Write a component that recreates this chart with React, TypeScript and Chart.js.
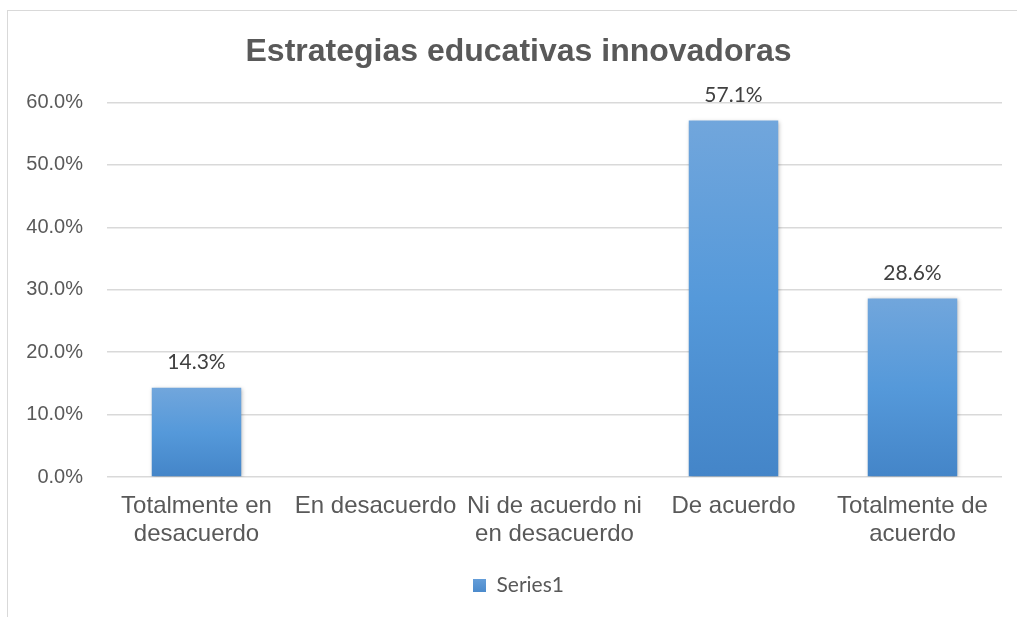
import React, { useEffect, useRef } from "react";
import { Chart, registerables } from "chart.js";

Chart.register(...registerables);

const titleText = "Estrategias educativas innovadoras";
const categories: (string | string[])[] = [
  ["Totalmente en", "desacuerdo"],
  "En desacuerdo",
  ["Ni de acuerdo ni", "en desacuerdo"],
  "De acuerdo",
  ["Totalmente de", "acuerdo"],
];
const seriesName = "Series1";
const values = [0.143, 0, 0, 0.571, 0.286];
const yMin = 0;
const yMax = 0.6;
const yStep = 0.1;

const TEXT = "#595959";
const GRID = "#d9d9d9";

const fmtPct = (v: number) => (v * 100).toFixed(1) + "%";

const barDecor = {
  id: "barDecor",
  beforeDatasetsDraw(chart: any) {
    const ctx = chart.ctx;
    ctx.save();
    ctx.shadowColor = "rgba(0,0,0,0.28)";
    ctx.shadowBlur = 4;
    ctx.shadowOffsetX = 1;
    ctx.shadowOffsetY = 1;
  },
  afterDatasetsDraw(chart: any) {
    const ctx = chart.ctx;
    ctx.restore();
    const meta = chart.getDatasetMeta(0);
    ctx.save();
    ctx.font = "21px Lato";
    ctx.fillStyle = "#404040";
    ctx.textAlign = "center";
    ctx.textBaseline = "middle";
    meta.data.forEach((el: any, i: number) => {
      const v = values[i];
      if (!v) return;
      ctx.fillText(fmtPct(v), el.x, el.y - 25);
    });
    ctx.restore();
  },
};

export default function App() {
  const ref = useRef<HTMLCanvasElement | null>(null);

  useEffect(() => {
    if (!ref.current) return;
    const chart = new Chart(ref.current, {
      type: "bar",
      data: {
        labels: categories,
        datasets: [
          {
            label: seriesName,
            data: values,
            backgroundColor: (c: any) => {
              const ys = c.chart.scales?.y;
              if (!ys || c.type !== "data" || !isFinite(ys.top)) return "#5B9BD5";
              const top = ys.getPixelForValue(c.raw);
              const base = ys.getPixelForValue(0);
              if (!isFinite(top) || !isFinite(base) || top === base) return "#5B9BD5";
              const g = c.chart.ctx.createLinearGradient(0, top, 0, base);
              g.addColorStop(0, "#71A6DC");
              g.addColorStop(0.5, "#5599DA");
              g.addColorStop(1, "#4485C8");
              return g;
            },
            borderWidth: 0,
            categoryPercentage: 1,
            barPercentage: 0.5,
          },
        ],
      },
      options: {
        responsive: false,
        animation: false,
        devicePixelRatio: 1,
        layout: { padding: { left: 20, right: 0, top: 0, bottom: 11 } },
        plugins: {
          title: {
            display: true,
            text: titleText,
            color: TEXT,
            font: { family: "'Liberation Sans', Arial, sans-serif", size: 32, weight: "bold", lineHeight: 1.2 },
            padding: { top: 33, bottom: 31 },
          },
          legend: {
            display: true,
            position: "bottom",
            labels: {
              color: TEXT,
              font: { family: "Lato", size: 21 },
              boxWidth: 13,
              boxHeight: 13,
              padding: 10,
              generateLabels: (ch: any) => [
                {
                  text: seriesName,
                  fillStyle: (() => {
                    const g = ch.ctx.createLinearGradient(0, 576, 0, 596);
                    g.addColorStop(0, "#6AA2DC");
                    g.addColorStop(1, "#4485C8");
                    return g;
                  })(),
                  strokeStyle: "rgba(0,0,0,0)",
                  lineWidth: 0,
                  hidden: false,
                  datasetIndex: 0,
                  fontColor: TEXT,
                },
              ],
            },
          },
          tooltip: { enabled: false },
        },
        scales: {
          x: {
            grid: { display: false, drawTicks: false },
            border: { display: false },
            ticks: {
              color: TEXT,
              font: { family: "'Liberation Sans', Arial, sans-serif", size: 24, lineHeight: 1.17 },
              padding: 15,
              maxRotation: 0,
              minRotation: 0,
              autoSkip: false,
            },
            afterFit: (s: any) => {
              s.height = 88;
            },
          },
          y: {
            min: yMin,
            max: yMax,
            grid: { color: GRID, lineWidth: 1.5, drawTicks: false },
            border: { display: false },
            ticks: {
              stepSize: yStep,
              color: TEXT,
              font: { family: "'Liberation Sans', Arial, sans-serif", size: 20 },
              padding: 24,
              callback: (v: any) => fmtPct(Number(v)),
            },
            afterFit: (s: any) => {
              s.width = 87;
            },
          },
          yR: {
            type: "linear",
            position: "right",
            display: true,
            grid: { display: false, drawOnChartArea: false, drawTicks: false },
            border: { display: false },
            ticks: { display: false },
            afterFit: (s: any) => {
              s.width = 15;
            },
          },
        },
      },
      plugins: [barDecor],
    } as any);
    return () => chart.destroy();
  }, []);

  return (
    <div
      style={{
        position: "fixed",
        left: 0,
        top: 0,
        width: 1017,
        height: 617,
        overflow: "hidden",
        background: "#fff",
      }}
    >
      <div
        style={{
          position: "absolute",
          left: 7,
          top: 10,
          width: 1040,
          height: 640,
          border: "1px solid #d9d9d9",
          boxSizing: "border-box",
        }}
      />
      <canvas
        ref={ref}
        width={1017}
        height={617}
        style={{ position: "absolute", left: 0, top: 0, width: 1017, height: 617 }}
      />
    </div>
  );
}
